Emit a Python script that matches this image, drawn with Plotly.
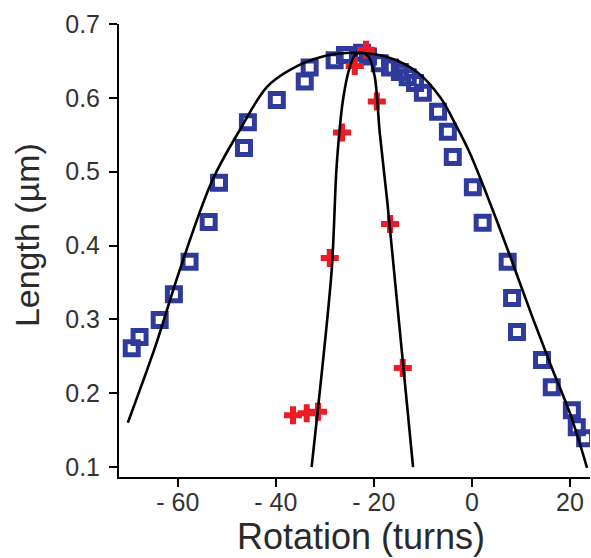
import plotly.graph_objects as go

# Blue open squares
sq_x = [-69.4, -67.8, -63.7, -60.8, -57.6, -53.7, -51.6, -46.5, -45.7, -39.8,
        -34.1, -33.1, -28.0, -25.9, -22.4, -21.2, -18.8, -16.7, -14.7, -13.1,
        -11.6, -10.0, -6.9, -4.9, -3.9, 0.2, 2.2, 7.3, 8.2, 9.2,
        14.3, 16.3, 20.4, 21.4, 23.1]
sq_y = [0.261, 0.276, 0.299, 0.334, 0.378, 0.432, 0.485, 0.532, 0.567, 0.597,
        0.622, 0.641, 0.651, 0.658, 0.661, 0.656, 0.647, 0.641, 0.635, 0.628,
        0.620, 0.607, 0.581, 0.554, 0.520, 0.479, 0.431, 0.378, 0.329, 0.283,
        0.245, 0.208, 0.177, 0.154, 0.139]

# Red crosses
cr_x = [-36.5, -33.7, -31.4, -29.0, -26.5, -23.9, -21.6, -19.4, -16.7, -14.1]
cr_y = [0.170, 0.173, 0.175, 0.383, 0.553, 0.643, 0.665, 0.595, 0.429, 0.234]

# Broad fitted curve
wide_x = [-70.2, -64.5, -59.6, -52.9, -47.3, -41.8, -37.1, -30.4, -23.5, -16.7,
          -11.2, -6.5, -3.1, -0.4, 1.6, 7.1, 12.4, 16.5, 20.0, 23.5]
wide_y = [0.160, 0.265, 0.367, 0.489, 0.557, 0.615, 0.638, 0.656, 0.661, 0.654,
          0.635, 0.601, 0.561, 0.525, 0.493, 0.398, 0.302, 0.231, 0.173, 0.099]

# Narrow fitted curve
narrow_x = [-32.7, -28.6, -27.6, -26.3, -24.9, -23.8, -22.4, -21.0, -19.8, -18.8, -17.3, -15.7, -12.0]
narrow_y = [0.100, 0.367, 0.507, 0.597, 0.642, 0.658, 0.661, 0.655, 0.628, 0.553, 0.462, 0.353, 0.100]

x_ticks = [-60, -40, -20, 0, 20]
x_tick_text = ["- 60", "- 40", "- 20", "0", "20"]
y_ticks = [0.1, 0.2, 0.3, 0.4, 0.5, 0.6, 0.7]
y_tick_text = ["0.1", "0.2", "0.3", "0.4", "0.5", "0.6", "0.7"]
x_title = "Rotation (turns)"
y_title = "Length (µm)"

fig = go.Figure()
fig.add_trace(go.Scatter(x=sq_x, y=sq_y, mode="markers",
                         marker=dict(symbol="square-open", size=13, color="#2e3a9c",
                                     line=dict(width=5, color="#2e3a9c"))))
fig.add_trace(go.Scatter(x=cr_x, y=cr_y, mode="markers",
                         marker=dict(symbol="cross", size=15, color="#ec1c24",
                                     line=dict(width=0))))
fig.add_trace(go.Scatter(x=wide_x, y=wide_y, mode="lines",
                         line=dict(color="black", width=2.6, shape="spline", smoothing=1.0)))
fig.add_trace(go.Scatter(x=narrow_x, y=narrow_y, mode="lines",
                         line=dict(color="black", width=2.6, shape="spline", smoothing=0.8)))

fig.update_layout(
    width=591, height=558,
    margin=dict(l=119, r=1, t=24, b=81),
    paper_bgcolor="white", plot_bgcolor="white",
    showlegend=False,
    font=dict(family="Liberation Sans, Arial, sans-serif", color="#2a2a2a"),
    xaxis=dict(range=[-72.0, 24.1], tickvals=x_ticks, ticktext=x_tick_text,
               ticks="outside", ticklen=8, tickwidth=1.5, tickcolor="black",
               showline=True, linecolor="black", linewidth=2,
               showgrid=False, zeroline=False, automargin=False,
               ticklabelstandoff=-6,
               tickfont=dict(size=25, color="#333333")),
    yaxis=dict(range=[0.0865, 0.7], tickvals=y_ticks, ticktext=y_tick_text,
               ticks="outside", ticklen=8, tickwidth=1.5, tickcolor="black",
               showline=True, linecolor="black", linewidth=2,
               showgrid=False, zeroline=False, automargin=False,
               ticklabelstandoff=4,
               tickfont=dict(size=25, color="#333333")),
    annotations=[
        dict(text=x_title, xref="paper", yref="paper", x=0.5138, y=-0.132,
             xanchor="center", yanchor="middle", showarrow=False,
             font=dict(size=36, color="#2a2a2a")),
        dict(text=y_title, xref="paper", yref="paper", x=-0.1953, y=0.534,
             xanchor="center", yanchor="middle", showarrow=False, textangle=-90,
             font=dict(size=34, color="#2a2a2a")),
    ],
)

fig.write_html("out.html", config={"displayModeBar": False},
               post_script="document.body.style.margin='0';")
